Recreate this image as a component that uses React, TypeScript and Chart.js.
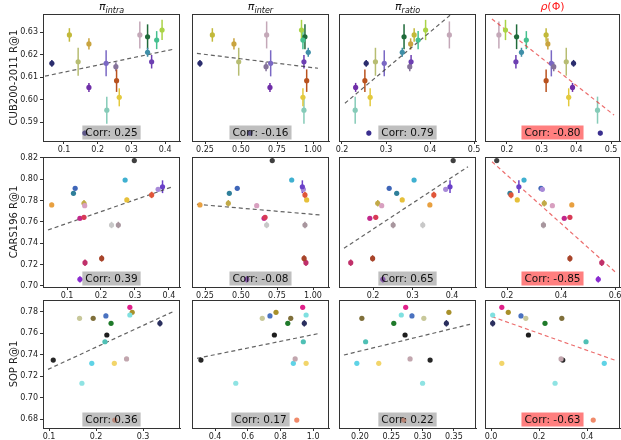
import React, { useEffect, useRef } from 'react';
import { Chart, registerables } from 'chart.js';

Chart.register(...registerables);
Chart.defaults.font.family = "'DejaVu Sans', sans-serif";

// ---------------- DATA ----------------
const rowNames = ['CUB200-2011 R@1', 'CARS196 R@1', 'SOP R@1'];
// title parts: [text, italic, subscript]
const titleParts: [string, boolean, boolean][][] = [
  [['π', true, false], ['intra', true, true]],
  [['π', true, false], ['inter', true, true]],
  [['π', true, false], ['ratio', true, true]],
  [['ρ', true, false], ['(Φ)', false, false]],
];

const cubCorr = [0.25, -0.16, 0.79, -0.8];
const carsCorr = [0.39, -0.08, 0.65, -0.85];
const sopCorr = [0.36, 0.17, 0.22, -0.63];

// CUB200-2011
const cubY = [0.6161, 0.6287, 0.6168, 0.6247, 0.6054, 0.5851, 0.6161, 0.5953, 0.6146, 0.6084, 0.601, 0.6287, 0.6279, 0.621, 0.6168, 0.6264, 0.6309];
const cubErr = [0.0015, 0.003, 0.0062, 0.0025, 0.002, 0.001, 0.0058, 0.006, 0.002, 0.005, 0.004, 0.006, 0.0055, 0.002, 0.003, 0.004, 0.0045];
const cubColors = ['#2b2d6e', '#c2b93a', '#b7bd72', '#c9a43f', '#6f2ea8', '#3a2f8f', '#7a68c4', '#86cbb8', '#85739a', '#b8521e', '#e3c93d', '#c4a8b8', '#1f6b3a', '#3f8fa8', '#6d3fb2', '#45c08f', '#aad346'];
const cubXIntra = [0.064, 0.116, 0.142, 0.174, 0.174, 0.162, 0.225, 0.227, 0.254, 0.256, 0.264, 0.325, 0.348, 0.348, 0.36, 0.375, 0.391];
const cubXInter = [0.215, 0.301, 0.484, 0.451, 0.701, 0.5625, 0.706, 0.937, 0.674, 0.956, 0.93, 0.678, 0.944, 0.967, 0.937, 0.93, 0.92];
const cubXRatio = [0.255, 0.364, 0.276, 0.356, 0.231, 0.261, 0.296, 0.23, 0.354, 0.252, 0.264, 0.444, 0.341, 0.337, 0.357, 0.373, 0.39];
const cubXRho = [0.392, 0.313, 0.371, 0.318, 0.389, 0.469, 0.328, 0.461, 0.335, 0.313, 0.378, 0.177, 0.228, 0.242, 0.226, 0.256, 0.196];

// CARS196
const carsY = [0.7759, 0.7868, 0.7915, 0.7634, 0.7643, 0.7775, 0.7217, 0.7061, 0.7257, 0.7571, 0.7571, 0.7993, 0.7806, 0.8175, 0.7853, 0.7906, 0.793, 0.7752];
const carsErr = [0.002, 0.0015, 0.0015, 0.002, 0.002, 0.003, 0.003, 0.003, 0.003, 0.003, 0.003, 0.002, 0.002, 0.001, 0.003, 0.002, 0.006, 0.002];
const carsColors = ['#e8a040', '#2f7f9a', '#3f66b8', '#c2278a', '#d83a56', '#c2aa48', '#c0306a', '#8a2bd0', '#a8442a', '#c8c8c8', '#a8969e', '#3fb0d0', '#e6c03a', '#404040', '#e0563a', '#a88ad8', '#6a40c8', '#d8a0c0'];
const carsXIntra = [0.055, 0.119, 0.124, 0.138, 0.15, 0.15, 0.153, 0.138, 0.202, 0.231, 0.251, 0.271, 0.276, 0.298, 0.349, 0.368, 0.381, 0.152];
const carsXInter = [0.215, 0.419, 0.474, 0.66, 0.667, 0.412, 0.951, 0.54, 0.938, 0.678, 0.944, 0.852, 0.956, 0.717, 0.944, 0.933, 0.926, 0.609];
const carsXRatio = [0.344, 0.26, 0.241, 0.192, 0.207, 0.212, 0.1436, 0.225, 0.199, 0.326, 0.251, 0.304, 0.274, 0.403, 0.354, 0.384, 0.395, 0.222];
const carsXRho = [0.44, 0.211, 0.326, 0.412, 0.433, 0.338, 0.551, 0.538, 0.433, 0.335, 0.335, 0.263, 0.238, 0.162, 0.215, 0.331, 0.244, 0.368];

// SOP
const sopY = [0.7351, 0.7134, 0.732, 0.7741, 0.7763, 0.7585, 0.7522, 0.7694, 0.732, 0.7361, 0.7844, 0.7797, 0.7772, 0.7694, 0.7741, 0.679];
const sopErr = [0.0005, 0.0005, 0.0005, 0.001, 0.002, 0.0008, 0.001, 0.0008, 0.0005, 0.0005, 0.0005, 0.0008, 0.0008, 0.003, 0.0008, 0.0005];
const sopColors = ['#262626', '#8fe3e3', '#5fd3e6', '#7f6f3a', '#4a72c0', '#1e1e1e', '#4fc0b5', '#1f7a2a', '#f2d56a', '#c2a6ae', '#e0208a', '#a8902a', '#7fe0e0', '#2a2f5e', '#c8c89a', '#f08a6a'];
const sopXIntra = [0.109, 0.17, 0.191, 0.194, 0.221, 0.223, 0.219, 0.232, 0.239, 0.265, 0.272, 0.277, 0.272, 0.336, 0.165, 0.24];
const sopXInter = [0.314, 0.527, 0.879, 0.863, 0.736, 0.763, 0.94, 0.845, 0.957, 0.89, 0.936, 0.773, 0.957, 0.946, 0.689, 0.9];
const sopXRatio = [0.312, 0.3, 0.195, 0.203, 0.283, 0.272, 0.209, 0.254, 0.23, 0.28, 0.273, 0.342, 0.266, 0.338, 0.302, 0.27];
const sopXRho = [0.299, 0.267, 0.472, 0.295, 0.125, 0.156, 0.396, 0.225, 0.045, 0.292, 0.045, 0.072, 0.007, 0.007, 0.145, 0.426];

// regression lines: [x0, y0, x1, y1]
const cubFit = [[0.0436, 0.6104, 0.4234, 0.6223], [0.194, 0.6205, 1.035, 0.6139], [0.2067, 0.5984, 0.4467, 0.6376], [0.157, 0.6358, 0.5086, 0.5931]];
const carsFit = [[0.0441, 0.7524, 0.4118, 0.7931], [0.194, 0.7765, 1.049, 0.7665], [0.1266, 0.7352, 0.4405, 0.8118], [0.1444, 0.8165, 0.6, 0.7132]];
const sopFit = [[0.0979, 0.7264, 0.3638, 0.7803], [0.29, 0.7367, 1.042, 0.7601], [0.1744, 0.7398, 0.3757, 0.7685], [0.004, 0.7756, 0.517, 0.7349]];

// axis limits
const cubYLim = [0.5816, 0.638];
const carsYLim = [0.6989, 0.8209];
const sopYLim = [0.6716, 0.7912];
const cubXLim = [[0.0377, 0.4442], [0.1597, 1.111], [0.1932, 0.5045], [0.137, 0.5257]];
const carsXLim = [[0.0294, 0.4324], [0.1597, 1.111], [0.1139, 0.4608], [0.1185, 0.6185]];
const sopXLim = [[0.0872, 0.3787], [0.2593, 1.097], [0.1665, 0.3853], [-0.025, 0.5375]];

// tick labels
const cubYTicks = ['0.59', '0.60', '0.61', '0.62', '0.63'];
const carsYTicks = ['0.70', '0.72', '0.74', '0.76', '0.78', '0.80', '0.82'];
const sopYTicks = ['0.68', '0.70', '0.72', '0.74', '0.76', '0.78'];
const cubXTicks = [['0.1', '0.2', '0.3', '0.4'], ['0.25', '0.50', '0.75', '1.00'], ['0.2', '0.3', '0.4', '0.5'], ['0.2', '0.3', '0.4', '0.5']];
const carsXTicks = [['0.1', '0.2', '0.3', '0.4'], ['0.25', '0.50', '0.75', '1.00'], ['0.2', '0.3', '0.4'], ['0.2', '0.4', '0.6']];
const sopXTicks = [['0.1', '0.2', '0.3'], ['0.4', '0.6', '0.8', '1.0'], ['0.20', '0.25', '0.30', '0.35'], ['0.0', '0.2', '0.4']];

// ---------------- LAYOUT ----------------
const COL_X = [[43, 180], [192, 329], [339, 476], [485, 620]];
const ROW_Y = [[14, 141], [157, 287], [300, 428]];

const ROWS = [
  { name: rowNames[0], y: cubY, err: cubErr, colors: cubColors, xs: [cubXIntra, cubXInter, cubXRatio, cubXRho], fit: cubFit, yLim: cubYLim, xLim: cubXLim, xTicks: cubXTicks, yTicks: cubYTicks, corr: cubCorr },
  { name: rowNames[1], y: carsY, err: carsErr, colors: carsColors, xs: [carsXIntra, carsXInter, carsXRatio, carsXRho], fit: carsFit, yLim: carsYLim, xLim: carsXLim, xTicks: carsXTicks, yTicks: carsYTicks, corr: carsCorr },
  { name: rowNames[2], y: sopY, err: sopErr, colors: sopColors, xs: [sopXIntra, sopXInter, sopXRatio, sopXRho], fit: sopFit, yLim: sopYLim, xLim: sopXLim, xTicks: sopXTicks, yTicks: sopYTicks, corr: sopCorr },
];

function geom(r: number, c: number) {
  const [x0, x1] = COL_X[c];
  const [y0, y1] = ROW_Y[r];
  const L = c === 0 ? x0 : 14;
  const T = r === 0 ? y0 : 8;
  const R = 14;
  const B = 16;
  return { left: x0 - L, top: y0 - T, width: x1 - x0 + L + R, height: y1 - y0 + T + B, L, T, R, B };
}

const FONT = "'DejaVu Sans', sans-serif";
const AX = '#333';

function makeChart(canvas: HTMLCanvasElement, r: number, c: number) {
  const row = ROWS[r];
  const g = geom(r, c);
  const xs = row.xs[c];
  const pts = xs.map((x, i) => ({ x, y: row.y[i] }));
  const f = row.fit[c];
  const isRho = c === 3;
  const xTickLabels = row.xTicks[c];
  const yTickLabels = row.yTicks;

  const deco = {
    id: 'deco' + r + c,
    beforeDatasetsDraw(chart: any) {
      const { ctx, chartArea } = chart;
      const sx = chart.scales.x;
      const sy = chart.scales.y;
      ctx.save();
      ctx.beginPath();
      ctx.rect(chartArea.left, chartArea.top, chartArea.right - chartArea.left, chartArea.bottom - chartArea.top);
      ctx.clip();
      ctx.lineWidth = 1.5;
      xs.forEach((x, i) => {
        const px = sx.getPixelForValue(x);
        const y = row.y[i];
        const e = row.err[i];
        ctx.strokeStyle = row.colors[i];
        ctx.beginPath();
        ctx.moveTo(px, sy.getPixelForValue(y - e));
        ctx.lineTo(px, sy.getPixelForValue(y + e));
        ctx.stroke();
      });
      ctx.restore();
    },
    afterDraw(chart: any) {
      const { ctx, chartArea } = chart;
      const { left, right, top, bottom } = chartArea;
      ctx.save();
      // top and right spines
      ctx.strokeStyle = AX;
      ctx.lineWidth = 1;
      ctx.beginPath();
      ctx.moveTo(left, top + 0.5);
      ctx.lineTo(right, top + 0.5);
      ctx.moveTo(right - 0.5, top);
      ctx.lineTo(right - 0.5, bottom);
      ctx.stroke();
      const cx = (left + right) / 2;
      // corr box
      const txt = 'Corr: ' + row.corr[c].toFixed(2);
      ctx.font = '10.5px ' + FONT;
      const w = ctx.measureText(txt).width + 6;
      const h = 14;
      const by = bottom - 1.5 - h;
      ctx.fillStyle = isRho ? 'rgba(255,0,0,0.5)' : 'rgba(128,128,128,0.5)';
      ctx.fillRect(cx - w / 2, by, w, h);
      ctx.fillStyle = '#111';
      ctx.textAlign = 'center';
      ctx.textBaseline = 'middle';
      ctx.fillText(txt, cx, by + h / 2 + 0.5);
      // column title
      if (r === 0) {
        const parts = titleParts[c];
        const fonts = parts.map((p) => (p[1] ? 'italic ' : '') + (p[2] ? '8px ' : '11px ') + FONT);
        let total = 0;
        parts.forEach((p, i) => {
          ctx.font = fonts[i];
          total += ctx.measureText(p[0]).width;
        });
        let x = cx - total / 2;
        const base = top - 4;
        ctx.textAlign = 'left';
        ctx.textBaseline = 'alphabetic';
        ctx.fillStyle = isRho ? '#ff1a1a' : '#111';
        parts.forEach((p, i) => {
          ctx.font = fonts[i];
          ctx.fillText(p[0], x, base + (p[2] ? 2.5 : 0));
          x += ctx.measureText(p[0]).width;
        });
      }
      ctx.restore();
    },
  };

  return new Chart(canvas, {
    type: 'scatter',
    data: {
      datasets: [
        {
          type: 'scatter',
          data: pts,
          backgroundColor: row.colors,
          pointBackgroundColor: row.colors,
          pointBorderWidth: 0,
          pointRadius: 2.6,
          pointHoverRadius: 2.6,
        } as any,
        {
          type: 'line',
          data: [{ x: f[0], y: f[1] }, { x: f[2], y: f[3] }],
          borderColor: isRho ? 'rgba(230,60,60,0.75)' : 'rgba(60,60,60,0.8)',
          borderWidth: 1.2,
          borderDash: [4, 3],
          pointRadius: 0,
          fill: false,
        } as any,
      ],
    },
    options: {
      animation: false,
      responsive: false,
      events: [],
      layout: { padding: { left: 0, top: g.T, right: g.R, bottom: 0 }, autoPadding: false } as any,
      plugins: { legend: { display: false }, tooltip: { enabled: false }, title: { display: false } },
      scales: {
        x: {
          type: 'linear',
          position: 'bottom',
          min: row.xLim[c][0],
          max: row.xLim[c][1],
          afterFit: (s: any) => {
            s.height = g.B;
          },
          afterBuildTicks: (s: any) => {
            s.ticks = xTickLabels.map((t) => ({ value: parseFloat(t) }));
          },
          ticks: {
            autoSkip: false,
            maxRotation: 0,
            padding: 1,
            color: '#222',
            font: { size: 8, family: FONT },
            callback: (_v: any, i: number) => xTickLabels[i],
          },
          grid: { display: true, drawOnChartArea: false, drawTicks: true, tickLength: 3, color: AX },
          border: { display: true, color: AX },
        },
        y: {
          type: 'linear',
          position: 'left',
          min: row.yLim[0],
          max: row.yLim[1],
          afterFit: (s: any) => {
            s.width = g.L;
          },
          afterBuildTicks: (s: any) => {
            s.ticks = yTickLabels.map((t) => ({ value: parseFloat(t) }));
          },
          ticks: {
            display: c === 0,
            autoSkip: false,
            padding: 2,
            color: '#222',
            font: { size: 8, family: FONT },
            callback: (_v: any, i: number) => yTickLabels[i],
          },
          grid: { display: c === 0, drawOnChartArea: false, drawTicks: true, tickLength: 3, color: AX },
          border: { display: true, color: AX },
          title: {
            display: c === 0,
            text: row.name,
            color: '#222',
            font: { size: 10, family: FONT },
            padding: { top: 8, bottom: 0 },
          },
        },
      },
    } as any,
    plugins: [deco],
  });
}

export default function App() {
  const refs = useRef<(HTMLCanvasElement | null)[]>([]);

  useEffect(() => {
    const charts: Chart[] = [];
    for (let r = 0; r < 3; r++) {
      for (let c = 0; c < 4; c++) {
        const cv = refs.current[r * 4 + c];
        if (cv) charts.push(makeChart(cv, r, c));
      }
    }
    return () => charts.forEach((ch) => ch.destroy());
  }, []);

  const cells: React.ReactNode[] = [];
  for (let r = 0; r < 3; r++) {
    for (let c = 0; c < 4; c++) {
      const g = geom(r, c);
      const idx = r * 4 + c;
      cells.push(
        <canvas
          key={idx}
          ref={(el) => {
            refs.current[idx] = el;
          }}
          width={g.width}
          height={g.height}
          style={{ position: 'absolute', left: g.left, top: g.top, width: g.width, height: g.height }}
        />
      );
    }
  }

  return (
    <div style={{ position: 'fixed', left: 0, top: 0, width: 621, height: 440, background: '#fff', overflow: 'hidden' }}>
      {cells}
    </div>
  );
}
